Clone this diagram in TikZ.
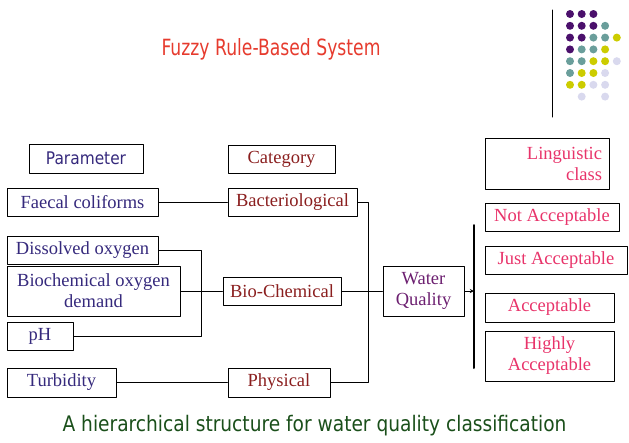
\documentclass[tikz,border=0pt]{standalone}
\usepackage{fontspec}
\setmainfont{Liberation Serif}
\newfontfamily\sansf{DejaVu Sans}
\definecolor{titlec}{HTML}{E63B2E}
\definecolor{capc}{HTML}{1A4F1A}
\definecolor{paramc}{HTML}{35297C}
\definecolor{catc}{HTML}{8A1E1E}
\definecolor{wqc}{HTML}{6C1F70}
\definecolor{classc}{HTML}{E8336A}
\definecolor{dotP}{HTML}{4B106C}
\definecolor{dotT}{HTML}{6A9E9B}
\definecolor{dotY}{HTML}{CCCC00}
\definecolor{dotL}{HTML}{D9D9EE}
\begin{document}
\begin{tikzpicture}[line join=round, line cap=round, >=stealth, x=1pt, y=-1pt, line width=0.9pt,
		font=\fontsize{18.5}{21}\selectfont,
		hop/.style={draw, line width=1pt, inner sep=0pt, align=center},
		thamso/.style={hop, text=paramc},
		nhom/.style={hop, text=catc},
		lop/.style={hop, text=classc}]
			\useasboundingbox (0,0) rectangle (629,442);
			% title and logo
			\node[font=\sansf\fontsize{17.2}{20}\selectfont, text=titlec] (tieude) at (271,49) {\scalebox{1}[1.3]{Fuzzy Rule-Based System}};
			\draw[line width=1pt] (552,10)--(552,117);
			\foreach \cot/\hang/\mau in {0/0/dotP,1/0/dotP,2/0/dotP,
				0/1/dotP,1/1/dotP,2/1/dotP,3/1/dotT,
				0/2/dotP,1/2/dotP,2/2/dotT,3/2/dotT,4/2/dotY,
				0/3/dotP,1/3/dotT,2/3/dotT,3/3/dotY,
				0/4/dotT,1/4/dotT,2/4/dotY,3/4/dotY,4/4/dotL,
				0/5/dotT,1/5/dotY,2/5/dotY,3/5/dotL,
				0/6/dotY,1/6/dotY,2/6/dotL,3/6/dotL,
				1/7/dotL,3/7/dotL}
			\fill[\mau] (570+11.7*\cot,14+11.8*\hang)circle(4pt);
			% headers
			\node[thamso, font=\sansf\fontsize{15.4}{18}\selectfont, minimum width=114, minimum height=29] (par) at (86,158.5) {\scalebox{1}[1.13]{Parameter}};
			\node[nhom, minimum width=107, minimum height=28] (cat) at (281.5,159) {Category};
			\node[lop, text width=110, inner xsep=7, minimum height=51, align=right] (ling) at (547,163.5) {Linguistic\\class};
			% parameters
			\node[thamso, minimum width=151, minimum height=28] (fc) at (82.5,202) {Faecal coliforms};
			\node[thamso, minimum width=151, minimum height=28] (do) at (82.5,250) {Dissolved oxygen};
			\node[thamso, minimum width=173, minimum height=50] (bod) at (93.5,291) {Biochemical oxygen\\demand};
			\node[thamso, minimum width=66, minimum height=28] (ph) at (40,336) {pH};
			\node[thamso, minimum width=109, minimum height=29] (tur) at (61.5,382.5) {Turbidity};
			% categories
			\node[nhom, minimum width=129, minimum height=28] (bac) at (292.5,202) {Bacteriological};
			\node[nhom, minimum width=118, minimum height=28] (bio) at (282,291) {Bio-Chemical};
			\node[nhom, minimum width=102, minimum height=29] (phy) at (279,382.5) {Physical};
			\node[hop, text=wqc, minimum width=81, minimum height=50] (wq) at (423.5,291) {Water\\Quality};
			% classes
			\node[lop, minimum width=134, minimum height=28] (na) at (552,217) {Not Acceptable};
			\node[lop, minimum width=142, minimum height=28] (ja) at (556,260) {Just Acceptable};
			\node[lop, minimum width=129, minimum height=29] (acc) at (549.5,307.5) {Acceptable};
			\node[lop, minimum width=129, minimum height=50] (ha) at (549.5,356) {Highly\\Acceptable};
			% links
			\draw (fc.east)--(bac.west);
			\draw (do.east)--++(43,0)|-(ph.east);
			\draw (bod.east)--(bio.west);
			\draw (tur.east)--(phy.west);
			\draw (bac.east)--++(11,0)|-(phy.east);
			\draw (bio.east)--(wq.west);
			\coordinate (bartop) at (474,225);
			\coordinate (barbot) at (474,368);
			\draw[line width=2pt] (bartop)--(barbot);
			\draw[->] (wq.east)--(wq.east-|bartop);
			\node[font=\sansf\fontsize{18.6}{22}\selectfont, text=capc] (chuthich) at (314.5,426) {\scalebox{1}[1.15]{A hierarchical structure for water quality classification}};
		\end{tikzpicture}
\end{document}
